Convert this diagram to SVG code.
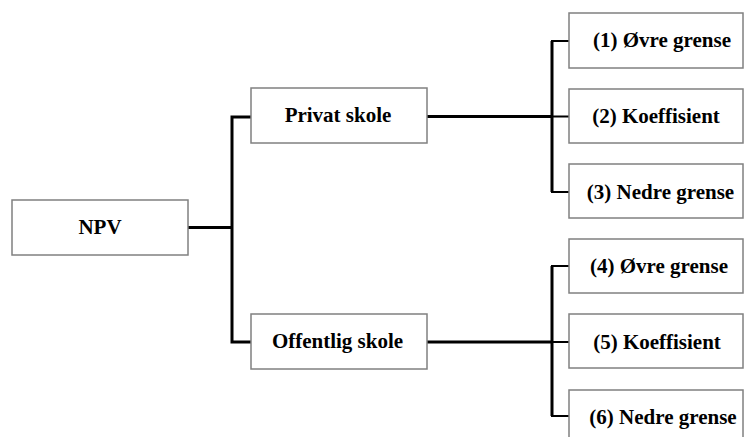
<svg xmlns="http://www.w3.org/2000/svg" width="746" height="437" viewBox="0 0 746 437">
<style>
.box{fill:#fff;stroke:#808080;stroke-width:1.5}
.lbl{font-family:"Liberation Serif","Times New Roman",serif;font-weight:bold;font-size:21px;fill:#000;text-anchor:middle}
.ln{fill:none;stroke:#000;stroke-width:3}
.st{fill:none;stroke:#000;stroke-width:2.2}
</style>
<rect width="746" height="437" fill="#fff"/>
<g id="connectors">
<path class="ln" d="M188 227.5H232M232 116V343M230.5 117H251M230.5 342H251"/>
<path class="ln" d="M427 116.5H552M427 342H552"/>
<path class="ln" d="M552 41V192M552 266V416"/>
<path class="st" d="M551 41H569M552 116.5H569M551 192H569M551 266H569M552 342H569M551 416H569"/>
</g>
<g id="npv"><rect class="box" x="12" y="200" width="176" height="55"/><text class="lbl" x="100" y="234">NPV</text></g>
<g id="privat"><rect class="box" x="251" y="88" width="176" height="55"/><text class="lbl" x="338" y="122">Privat skole</text></g>
<g id="offentlig"><rect class="box" x="251" y="314" width="176" height="55"/><text class="lbl" x="337.5" y="348">Offentlig skole</text></g>
<g id="n1"><rect class="box" x="569" y="13" width="174" height="55"/><text class="lbl" x="662" y="47">(1) Øvre grense</text></g>
<g id="n2"><rect class="box" x="569" y="89" width="174" height="54"/><text class="lbl" x="656" y="123">(2) Koeffisient</text></g>
<g id="n3"><rect class="box" x="569" y="164" width="174" height="54"/><text class="lbl" x="660.5" y="199">(3) Nedre grense</text></g>
<g id="n4"><rect class="box" x="569" y="239" width="174" height="54"/><text class="lbl" x="659" y="273">(4) Øvre grense</text></g>
<g id="n5"><rect class="box" x="569" y="314" width="174" height="54"/><text class="lbl" x="657" y="349">(5) Koeffisient</text></g>
<g id="n6"><rect class="box" x="569" y="390" width="174" height="60"/><text class="lbl" x="663" y="424">(6) Nedre grense</text></g>
</svg>
